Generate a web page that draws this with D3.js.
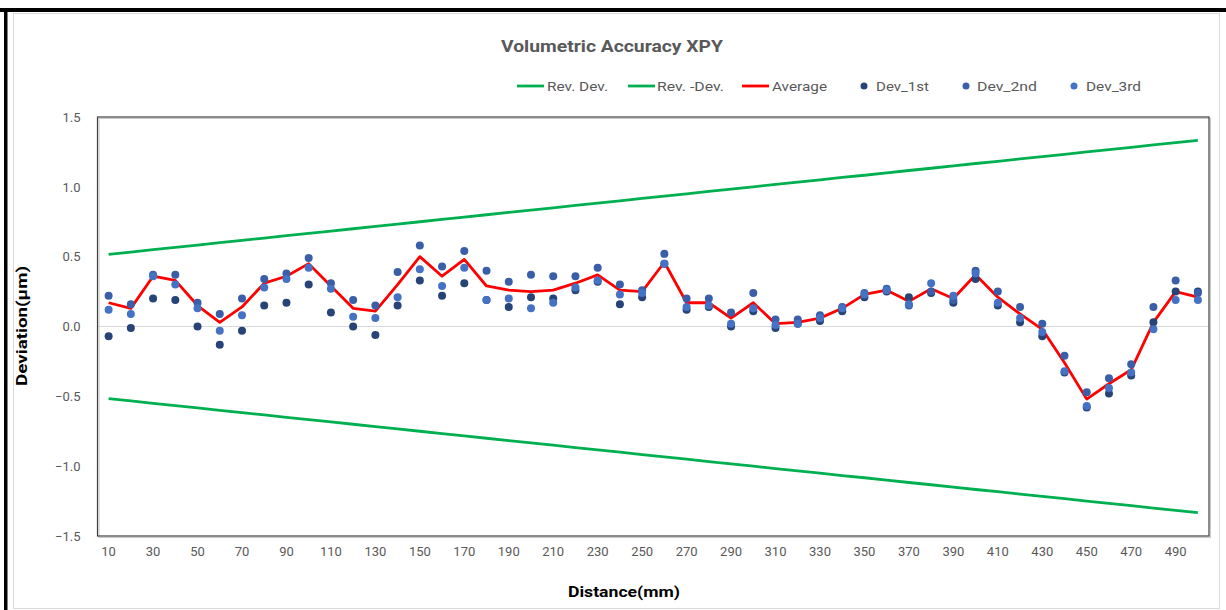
<!DOCTYPE html>
<html>
<head>
<meta charset="utf-8">
<script src="https://cdn.jsdelivr.net/npm/d3@7"></script>
<style>
body { margin: 0; background: #fff; }
text { font-family: Roboto, "Open Sans", sans-serif; }
</style>
</head>
<body>
<script>
// distance (mm)
const distance = [10,20,30,40,50,60,70,80,90,100,110,120,130,140,150,160,170,180,190,200,
  210,220,230,240,250,260,270,280,290,300,310,320,330,340,350,360,370,380,390,400,
  410,420,430,440,450,460,470,480,490,500]

const revDev = [0.517,0.533,0.550,0.567,0.583,0.600,0.617,0.633,0.650,0.667,0.683,0.700,0.717,0.733,0.750,0.767,0.783,0.800,0.817,0.833,
  0.850,0.867,0.883,0.900,0.917,0.933,0.950,0.967,0.983,1.000,1.017,1.033,1.050,1.067,1.083,1.100,1.117,1.133,1.150,1.167,
  1.183,1.200,1.217,1.233,1.250,1.267,1.283,1.300,1.317,1.333]
const revDevNeg = [-0.517,-0.533,-0.550,-0.567,-0.583,-0.600,-0.617,-0.633,-0.650,-0.667,-0.683,-0.700,-0.717,-0.733,-0.750,-0.767,-0.783,-0.800,-0.817,-0.833,
  -0.850,-0.867,-0.883,-0.900,-0.917,-0.933,-0.950,-0.967,-0.983,-1.000,-1.017,-1.033,-1.050,-1.067,-1.083,-1.100,-1.117,-1.133,-1.150,-1.167,
  -1.183,-1.200,-1.217,-1.233,-1.250,-1.267,-1.283,-1.300,-1.317,-1.333]

const average = [0.17,0.13,0.36,0.33,0.15,0.03,0.14,0.31,0.36,0.45,0.29,0.13,0.11,0.30,0.50,0.36,0.48,0.29,0.26,0.25,
  0.26,0.31,0.37,0.26,0.25,0.46,0.17,0.17,0.06,0.17,0.02,0.03,0.06,0.13,0.23,0.26,0.18,0.27,0.20,0.37,
  0.21,0.09,-0.02,-0.26,-0.52,-0.41,-0.31,0.03,0.25,0.21]

const dev1st = [-0.07,-0.01,0.20,0.19,0.00,-0.13,-0.03,0.15,0.17,0.30,0.10,0.00,-0.06,0.15,0.33,0.22,0.31,0.19,0.14,0.21,
  0.20,0.26,0.32,0.16,0.21,0.45,0.12,0.14,0.00,0.11,-0.01,0.02,0.04,0.11,0.21,0.25,0.21,0.24,0.17,0.34,
  0.15,0.03,-0.07,-0.33,-0.58,-0.48,-0.35,0.03,0.25,0.25]
const dev2nd = [0.22,0.16,0.37,0.37,0.17,0.09,0.20,0.34,0.38,0.49,0.31,0.19,0.15,0.39,0.58,0.43,0.54,0.40,0.32,0.37,
  0.36,0.36,0.42,0.30,0.26,0.52,0.20,0.20,0.10,0.24,0.05,0.05,0.08,0.14,0.24,0.27,0.15,0.25,0.19,0.40,
  0.25,0.14,0.02,-0.21,-0.47,-0.37,-0.27,0.14,0.33,0.24]
const dev3rd = [0.12,0.09,0.36,0.30,0.13,-0.03,0.08,0.28,0.34,0.42,0.27,0.07,0.06,0.21,0.41,0.29,0.42,0.19,0.20,0.13,
  0.17,0.28,0.33,0.23,0.24,0.45,0.14,0.15,0.02,0.13,0.01,0.02,0.06,0.13,0.23,0.26,0.16,0.31,0.22,0.38,
  0.17,0.06,-0.04,-0.32,-0.57,-0.44,-0.33,-0.02,0.19,0.19]

const yTicks = [-1.5,-1.0,-0.5,0.0,0.5,1.0,1.5]
const xTickLabels = distance.filter((d, i) => i % 2 === 0)

const W = 1226, H = 610
const svg = d3.select(document.body)
  .append('svg')
  .attr('width', W)
  .attr('height', H)

// outer frame
svg.append('rect').attr('x', 0).attr('y', 0).attr('width', W).attr('height', H).attr('fill', '#fff')
svg.append('rect')
  .attr('x', 13.5).attr('y', 13.5).attr('width', 1206).attr('height', 595)
  .attr('fill', '#fff').attr('stroke', '#d9d9d9')
svg.append('rect').attr('x', 0).attr('y', 8).attr('width', W).attr('height', 4).attr('fill', '#000')
svg.append('rect').attr('x', 4).attr('y', 8).attr('width', 3.5).attr('height', H - 8).attr('fill', '#000')

const plot = {left: 97.5, top: 117, right: 1209, bottom: 536}

const x = d3.scaleBand()
  .domain(distance)
  .range([plot.left, plot.right])
const cx = d => x(d) + x.bandwidth() / 2

const y = d3.scaleLinear()
  .domain([-1.5, 1.5])
  .range([plot.bottom, plot.top])

// zero gridline
svg.append('line')
  .attr('x1', plot.left).attr('x2', plot.right)
  .attr('y1', y(0)).attr('y2', y(0))
  .attr('stroke', '#d9d9d9').attr('stroke-width', 1)

// plot area border with a little shadow
svg.append('rect')
  .attr('x', plot.left + 1.5).attr('y', plot.top + 1.5)
  .attr('width', plot.right - plot.left).attr('height', plot.bottom - plot.top)
  .attr('fill', 'none').attr('stroke', '#c8c8c8').attr('stroke-width', 1)
svg.append('rect')
  .attr('x', plot.left).attr('y', plot.top)
  .attr('width', plot.right - plot.left).attr('height', plot.bottom - plot.top)
  .attr('fill', 'none').attr('stroke', '#404040').attr('stroke-width', 1.2)

// axes
const yAxis = d3.axisLeft(y)
  .tickValues(yTicks)
  .tickSize(0)
  .tickPadding(17)
  .tickFormat(d3.format('.1f'))
svg.append('g')
  .attr('class', 'axis')
  .attr('transform', `translate(${plot.left},0)`)
  .call(yAxis)

const xAxis = d3.axisBottom(x)
  .tickValues(xTickLabels)
  .tickSize(0)
  .tickPadding(11)
svg.append('g')
  .attr('class', 'axis')
  .attr('transform', `translate(0,${plot.bottom})`)
  .call(xAxis)

svg.selectAll('.axis path').remove()
svg.selectAll('.axis text')
  .attr('fill', '#595959')
  .style('font-size', '13px')
  .style('font-family', 'Roboto, sans-serif')

// lines
const line = d3.line()
  .x((d, i) => cx(distance[i]))
  .y(d => y(d))

const lineSeries = [
  {values: revDev, color: '#00b050'},
  {values: revDevNeg, color: '#00b050'},
  {values: average, color: '#ff0000'}
]
svg.append('g')
  .selectAll('path')
  .data(lineSeries)
  .enter()
  .append('path')
  .attr('d', d => line(d.values))
  .attr('fill', 'none')
  .attr('stroke', d => d.color)
  .attr('stroke-width', 2.8)
  .attr('stroke-linejoin', 'round')

// dots
const dotSeries = [
  {values: dev1st, color: '#264478'},
  {values: dev2nd, color: '#3a5ea8'},
  {values: dev3rd, color: '#4472c4'}
]
dotSeries.forEach(function(s){
  svg.append('g')
    .selectAll('circle')
    .data(s.values)
    .enter()
    .append('circle')
    .attr('cx', (d, i) => cx(distance[i]))
    .attr('cy', d => y(d))
    .attr('r', 4)
    .attr('fill', s.color)
})

// title
svg.append('text')
  .attr('x', 612).attr('y', 52)
  .attr('text-anchor', 'middle')
  .attr('textLength', 222)
  .attr('lengthAdjust', 'spacingAndGlyphs')
  .attr('fill', '#595959')
  .style('font-size', '17px')
  .style('font-weight', 'bold')
  .text('Volumetric Accuracy XPY')

// legend
const legendItems = [
  {name: 'Rev. Dev.', type: 'line', color: '#00b050', x: 517, tx: 547, tw: 61},
  {name: 'Rev. -Dev.', type: 'line', color: '#00b050', x: 628, tx: 657, tw: 67},
  {name: 'Average', type: 'line', color: '#ff0000', x: 742, tx: 772, tw: 55},
  {name: 'Dev_1st', type: 'dot', color: '#264478', x: 858, tx: 876, tw: 53},
  {name: 'Dev_2nd', type: 'dot', color: '#3a5ea8', x: 960, tx: 977, tw: 60},
  {name: 'Dev_3rd', type: 'dot', color: '#4472c4', x: 1068, tx: 1086, tw: 55}
]
const legend = svg.append('g').attr('class', 'legend')
const ly = 86
legendItems.forEach(function(it){
  if (it.type === 'line') {
    legend.append('line')
      .attr('x1', it.x).attr('x2', it.x + 27)
      .attr('y1', ly).attr('y2', ly)
      .attr('stroke', it.color).attr('stroke-width', 2.8)
  } else {
    legend.append('circle')
      .attr('cx', it.x + 6).attr('cy', ly).attr('r', 3.5)
      .attr('fill', it.color)
  }
  legend.append('text')
    .attr('x', it.tx).attr('y', ly + 5)
    .attr('textLength', it.tw)
    .attr('lengthAdjust', 'spacingAndGlyphs')
    .attr('fill', '#595959')
    .style('font-size', '13.5px')
    .text(it.name)
})

// axis titles
svg.append('text')
  .attr('x', 624).attr('y', 597)
  .attr('text-anchor', 'middle')
  .attr('textLength', 112)
  .attr('lengthAdjust', 'spacingAndGlyphs')
  .attr('fill', '#000')
  .style('font-size', '15px')
  .style('font-weight', 'bold')
  .text('Distance(mm)')

svg.append('text')
  .attr('transform', 'translate(27,326) rotate(-90)')
  .attr('text-anchor', 'middle')
  .attr('textLength', 120)
  .attr('lengthAdjust', 'spacingAndGlyphs')
  .attr('fill', '#000')
  .style('font-size', '15px')
  .style('font-weight', 'bold')
  .text('Deviation(μm)')
</script>
</body>
</html>
